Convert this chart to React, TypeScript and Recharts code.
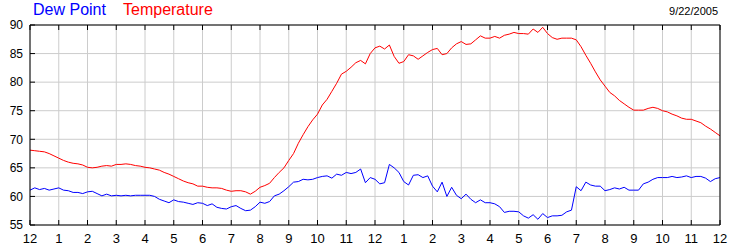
import React from 'react';
import { LineChart, Line, XAxis, YAxis, CartesianGrid } from 'recharts';

// one reading every 10 minutes, from midnight to midnight
const STEP_MINUTES = 10;

const TEMPERATURE = [
  68.1, 68.0, 67.9, 67.8, 67.5, 67.1,
  66.7, 66.3, 66.0, 65.8, 65.7, 65.5,
  65.1, 65.0, 65.1, 65.3, 65.4, 65.3,
  65.6, 65.6, 65.7, 65.6, 65.4, 65.3,
  65.1, 65.0, 64.8, 64.6, 64.2, 63.9,
  63.5, 63.1, 62.7, 62.4, 62.2, 61.8,
  61.8, 61.6, 61.5, 61.5, 61.4, 61.1,
  60.9, 61.0, 61.0, 60.8, 60.4, 60.9,
  61.6, 61.9, 62.3, 63.3, 64.2, 65.0,
  66.3, 67.5, 69.3, 70.8, 72.2, 73.4,
  74.4, 76.0, 77.0, 78.4, 79.8, 81.4,
  81.9, 82.6, 83.4, 83.8, 83.2, 85.0,
  86.0, 86.3, 85.8, 86.5, 84.5, 83.3,
  83.6, 84.8, 84.6, 84.0, 84.6, 85.2,
  85.7, 85.9, 84.8, 85.0, 86.0, 86.7,
  87.1, 86.6, 86.7, 87.4, 88.1, 87.7,
  87.7, 88.0, 87.7, 88.2, 88.4, 88.7,
  88.5, 88.5, 88.4, 89.3, 88.7, 89.6,
  88.5, 87.8, 87.5, 87.7, 87.7, 87.7,
  87.4, 86.2, 84.7, 83.3, 81.8, 80.4,
  79.3, 78.2, 77.6, 76.8, 76.2, 75.6,
  75.1, 75.1, 75.1, 75.4, 75.6, 75.4,
  75.0, 74.8, 74.4, 74.1, 73.7, 73.5,
  73.5, 73.2, 72.9, 72.3, 71.8, 71.2,
  70.6,
];

const DEW_POINT = [
  61.1, 61.5, 61.2, 61.4, 61.1, 61.3,
  61.5, 61.1, 61.0, 60.7, 60.7, 60.5,
  60.8, 60.9, 60.5, 60.1, 60.4, 60.1,
  60.2, 60.1, 60.2, 60.1, 60.2, 60.2,
  60.2, 60.2, 60.0, 59.5, 59.2, 58.9,
  59.4, 59.1, 59.0, 58.8, 58.6, 58.9,
  58.8, 58.4, 58.7, 58.1, 57.9, 57.8,
  58.2, 58.4, 57.9, 57.5, 57.6, 58.2,
  59.0, 58.8, 59.1, 60.1, 60.4, 61.0,
  61.7, 62.5, 62.6, 63.0, 62.9, 63.0,
  63.3, 63.5, 63.6, 63.2, 63.9, 63.7,
  64.2, 64.0, 64.2, 64.8, 62.4, 63.3,
  63.0, 62.2, 62.4, 65.6, 65.0, 64.2,
  62.6, 62.0, 63.7, 63.8, 63.3, 63.6,
  61.8, 60.8, 62.5, 60.0, 61.6, 60.2,
  59.6, 60.4, 59.5, 58.9, 59.4, 58.9,
  58.9, 58.7, 58.2, 57.2, 57.4, 57.4,
  57.3, 56.6, 56.2, 56.8, 56.0, 57.0,
  56.3, 56.6, 56.6, 56.7, 57.3, 57.6,
  61.7, 61.0, 62.5, 62.0, 61.8, 61.8,
  61.0, 61.2, 61.5, 61.3, 61.6, 61.1,
  61.1, 61.1, 62.2, 62.5, 63.0, 63.3,
  63.3, 63.3, 63.5, 63.3, 63.4, 63.6,
  63.3, 63.5, 63.5, 63.2, 62.6, 63.1,
  63.3,
];

const HOUR_LABELS = [
  '12', '1', '2', '3', '4', '5', '6', '7', '8', '9', '10', '11',
  '12', '1', '2', '3', '4', '5', '6', '7', '8', '9', '10', '11', '12',
];

const Y_TICKS = [55, 60, 65, 70, 75, 80, 85, 90];
const DATE_LABEL = '9/22/2005';

const FONT = 'Arial, "Liberation Sans", sans-serif';

const chartData = TEMPERATURE.map((temp, i) => ({
  minute: i * STEP_MINUTES,
  temperature: temp,
  dewPoint: DEW_POINT[i],
}));

const hourTicks = HOUR_LABELS.map((_, i) => i * 60);

const tickStyle = { fill: '#000', fontSize: 12, fontFamily: FONT };

export default function App() {
  return (
    <div style={{ position: 'absolute', left: 0, top: 0, width: 750, height: 250, background: '#fff', fontFamily: FONT }}>
      <div style={{ position: 'absolute', left: 33, top: 1, fontSize: 16, color: '#0000ff', whiteSpace: 'nowrap' }}>Dew Point</div>
      <div style={{ position: 'absolute', left: 123, top: 1, fontSize: 16, color: '#ff0000', whiteSpace: 'nowrap' }}>Temperature</div>
      <div style={{ position: 'absolute', right: 32, top: 5, fontSize: 11, color: '#000', whiteSpace: 'nowrap' }}>{DATE_LABEL}</div>
      <LineChart width={750} height={250} data={chartData} margin={{ top: 0, right: 0, bottom: 0, left: 0 }}>
        <CartesianGrid stroke="#cccccc" />
        <XAxis
          dataKey="minute"
          type="number"
          domain={[0, 1440]}
          ticks={hourTicks}
          interval={0}
          height={25}
          stroke="#000"
          tickSize={-5}
          tickMargin={14}
          tick={{ ...tickStyle, fontSize: 13 }}
          tickFormatter={(v: number) => HOUR_LABELS[Math.round(v / 60)]}
        />
        <XAxis
          xAxisId="top"
          orientation="top"
          dataKey="minute"
          type="number"
          domain={[0, 1440]}
          ticks={hourTicks}
          interval={0}
          height={25}
          stroke="#000"
          tickSize={-5}
          tick={() => <g />}
        />
        <YAxis
          domain={[55, 90]}
          ticks={Y_TICKS}
          interval={0}
          width={30}
          stroke="#000"
          tickSize={-5}
          tickMargin={12}
          tick={tickStyle}
        />
        <YAxis
          yAxisId="right"
          orientation="right"
          domain={[55, 90]}
          ticks={Y_TICKS}
          interval={0}
          width={30}
          stroke="#000"
          tickSize={-5}
          tickMargin={12}
          tick={tickStyle}
        />
        <Line type="linear" dataKey="dewPoint" stroke="#0000ff" strokeWidth={1} dot={false} isAnimationActive={false} />
        <Line type="linear" dataKey="temperature" stroke="#ff0000" strokeWidth={1} dot={false} isAnimationActive={false} />
      </LineChart>
    </div>
  );
}
